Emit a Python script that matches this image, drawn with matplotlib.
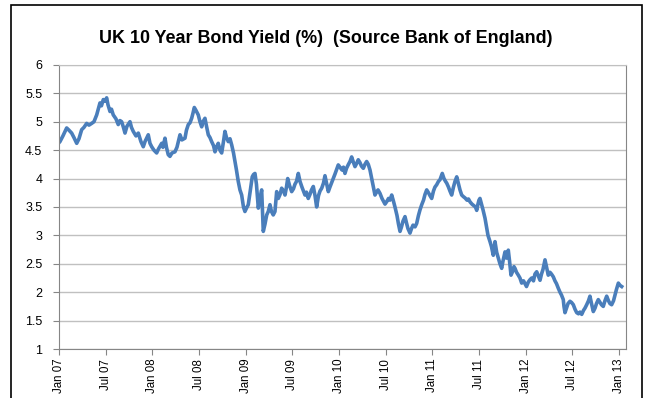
import matplotlib.pyplot as plt
from matplotlib.patches import Rectangle

# months since Jan 2007 and the 10 year gilt yield (%)
months = [
    0, 0.13, 0.51, 0.99, 1.29, 1.63, 1.93, 2.28, 2.57, 2.92, 3.21, 3.56, 3.86, 4.20,
    4.50, 4.85, 5.01, 5.27, 5.46, 5.70, 5.91, 6.13, 6.30, 6.56, 6.75, 6.98, 7.33, 7.62,
    7.84, 8.06, 8.29, 8.49, 8.74, 9.13, 9.32, 9.55, 9.90, 10.20, 10.54, 10.84, 11.06,
    11.48, 11.70, 11.92, 12.21, 12.56, 12.79, 13.21, 13.37, 13.63, 13.82, 14.05, 14.27,
    14.53, 14.91, 15.17, 15.56, 15.81, 16.20, 16.39, 16.63, 16.84, 17.06, 17.23, 17.40,
    17.61, 17.91, 18.13, 18.35, 18.52, 18.77, 18.97, 19.20, 19.42, 19.63, 19.87, 20.06,
    20.25, 20.48, 20.70, 20.92, 21.15, 21.34, 21.54, 21.77, 21.99, 22.21, 22.44, 22.63,
    22.82, 23.05, 23.27, 23.49, 23.72, 23.91, 24.11, 24.34, 24.56, 24.85, 25.01, 25.20,
    25.39, 25.63, 25.84, 26.06, 26.17, 26.27, 26.49, 26.71, 26.91, 27.13, 27.32, 27.55,
    27.77, 27.99, 28.20, 28.42, 28.63, 28.87, 29.06, 29.25, 29.41, 29.64, 29.92, 30.15,
    30.34, 30.54, 30.77, 30.99, 31.24, 31.44, 31.63, 31.82, 32.05, 32.27, 32.47, 32.70,
    32.92, 33.13, 33.37, 33.56, 33.78, 34.01, 34.20, 34.40, 34.63, 34.84, 35.04, 35.27,
    35.49, 35.68, 35.91, 36.13, 36.39, 36.58, 36.77, 36.97, 37.22, 37.42, 37.63, 37.87,
    38.06, 38.25, 38.48, 38.70, 38.89, 39.13, 39.34, 39.56, 39.77, 39.99, 40.21, 40.44,
    40.63, 40.82, 41.02, 41.27, 41.53, 41.72, 41.92, 42.17, 42.37, 42.56, 42.78, 43.01,
    43.20, 43.46, 43.65, 43.85, 44.04, 44.23, 44.49, 44.68, 44.87, 45.13, 45.33, 45.52,
    45.78, 45.99, 46.22, 46.42, 46.64, 46.87, 47.06, 47.28, 47.51, 47.70, 47.92, 48.15,
    48.34, 48.56, 48.79, 48.99, 49.28, 49.50, 49.70, 49.85, 50.08, 50.27, 50.49, 50.72,
    50.92, 51.14, 51.37, 51.56, 51.78, 52.01, 52.20, 52.46, 52.65, 52.85, 53.10, 53.36,
    53.55, 53.71, 53.87, 54.00, 54.13, 54.33, 54.52, 54.78, 54.97, 55.16, 55.42, 55.61,
    55.84, 56.06, 56.28, 56.49, 56.70, 56.92, 57.09, 57.35, 57.54, 57.77, 57.93, 58.12,
    58.31, 58.50, 58.63, 58.83, 59.06, 59.27, 59.49, 59.73, 59.92, 60.11, 60.35, 60.56,
    60.78, 61.01, 61.20, 61.42, 61.65, 61.85, 62.04, 62.23, 62.49, 62.68, 62.91, 63.13,
    63.32, 63.56, 63.77, 63.97, 64.20, 64.42, 64.61, 64.84, 64.93, 65.06, 65.25, 65.45,
    65.70, 65.90, 66.13, 66.35, 66.57, 66.80, 66.99, 67.21, 67.44, 67.63, 67.85, 68.08,
    68.27, 68.47, 68.70, 68.92, 69.11, 69.34, 69.56, 69.75, 69.98, 70.20, 70.42, 70.65,
    70.84, 71.06, 71.30, 71.49, 71.68, 71.92, 72.14, 72.35,
]
yields = [
    4.63, 4.65, 4.75, 4.89, 4.85, 4.80, 4.72, 4.62, 4.70, 4.86, 4.90, 4.97, 4.94, 4.97,
    5.00, 5.12, 5.20, 5.33, 5.28, 5.39, 5.36, 5.42, 5.30, 5.18, 5.22, 5.12, 5.05, 4.95,
    5.02, 5.00, 4.90, 4.80, 4.92, 5.00, 4.90, 4.83, 4.75, 4.80, 4.65, 4.56, 4.65,
    4.77, 4.62, 4.56, 4.50, 4.45, 4.52, 4.62, 4.55, 4.71, 4.55, 4.42, 4.39,
    4.45, 4.47, 4.55, 4.77, 4.68, 4.71, 4.85, 4.95, 4.98, 5.06, 5.15, 5.25,
    5.20, 5.12, 5.00, 4.91, 5.00, 5.06, 4.92, 4.77, 4.72, 4.65, 4.58, 4.47,
    4.55, 4.62, 4.50, 4.45, 4.65, 4.83, 4.72, 4.65, 4.70, 4.59, 4.45, 4.30,
    4.15, 3.95, 3.80, 3.71, 3.50, 3.42, 3.48, 3.54, 3.75, 4.03, 4.07, 4.09,
    3.90, 3.48, 3.65, 3.80, 3.40, 3.07, 3.20, 3.36, 3.42, 3.54, 3.42, 3.36,
    3.42, 3.77, 3.65, 3.72, 3.83, 3.78, 3.71, 3.85, 4.00, 3.88, 3.77, 3.82,
    3.90, 3.95, 4.09, 3.95, 3.85, 3.78, 3.71, 3.76, 3.65, 3.72, 3.80, 3.86,
    3.70, 3.50, 3.70, 3.78, 3.83, 3.92, 4.05, 3.92, 3.77, 3.85, 3.92, 4.00,
    4.08, 4.15, 4.24, 4.20, 4.15, 4.20, 4.09, 4.18, 4.25, 4.30, 4.38, 4.28,
    4.21, 4.26, 4.33, 4.28, 4.22, 4.18, 4.25, 4.30, 4.25, 4.15, 4.00, 3.85,
    3.71, 3.76, 3.80, 3.74, 3.65, 3.60, 3.55, 3.60, 3.65, 3.62, 3.71, 3.60,
    3.50, 3.35, 3.20, 3.07, 3.15, 3.25, 3.33, 3.22, 3.12, 3.04, 3.12, 3.18,
    3.15, 3.21, 3.35, 3.45, 3.54, 3.62, 3.72, 3.80, 3.75, 3.70, 3.65, 3.78,
    3.85, 3.89, 3.95, 3.98, 4.09, 4.00, 3.95, 3.92, 3.85, 3.78, 3.71, 3.85,
    3.95, 4.03, 3.90, 3.80, 3.71, 3.68, 3.66, 3.62, 3.64, 3.59, 3.55, 3.52,
    3.50, 3.44, 3.55, 3.62, 3.65, 3.55, 3.45, 3.30, 3.15, 3.00, 2.89, 2.80,
    2.65, 2.89, 2.70, 2.60, 2.50, 2.42, 2.55, 2.71, 2.60, 2.74, 2.55, 2.30,
    2.36, 2.45, 2.42, 2.35, 2.30, 2.25, 2.16, 2.20, 2.15, 2.10, 2.18, 2.22,
    2.25, 2.20, 2.32, 2.36, 2.28, 2.21, 2.32, 2.40, 2.57, 2.45, 2.30, 2.35,
    2.32, 2.27, 2.20, 2.15, 2.07, 2.00, 1.95, 1.87, 1.75, 1.64, 1.72, 1.80,
    1.84, 1.82, 1.78, 1.70, 1.64, 1.62, 1.65, 1.61, 1.68, 1.72, 1.78, 1.85,
    1.93, 1.80, 1.66, 1.72, 1.80, 1.87, 1.82, 1.78, 1.75, 1.85, 1.93, 1.85,
    1.80, 1.78, 1.85, 1.95, 2.05, 2.16, 2.12, 2.10,
]

tick_months = list(range(0, 73, 6))
tick_labels = ["Jan 07", "Jul 07", "Jan 08", "Jul 08", "Jan 09", "Jul 09", "Jan 10",
               "Jul 10", "Jan 11", "Jul 11", "Jan 12", "Jul 12", "Jan 13"]
y_ticks = [1, 1.5, 2, 2.5, 3, 3.5, 4, 4.5, 5, 5.5, 6]

plt.rcParams['font.family'] = ['Liberation Sans', 'DejaVu Sans']

fig = plt.figure(figsize=(6.48, 3.98), dpi=100)
ax = fig.add_axes([0.091, 0.123, 0.875, 0.714])

ax.plot(months, yields, color='#4a7ebb', lw=2.6, solid_joinstyle='round')

ax.set_xlim(0, 72.9)
ax.set_ylim(1, 6)
ax.set_yticks(y_ticks)
ax.set_yticklabels([f"{v:g}" for v in y_ticks])
ax.set_xticks(tick_months)
ax.set_xticklabels(tick_labels, rotation=90)
ax.tick_params(axis='both', color='#868686', length=4, width=0.8)
ax.tick_params(axis='x', labelsize=8.3, pad=3)
ax.tick_params(axis='y', labelsize=9, pad=8)

ax.grid(axis='y', color='#c0c0c0', lw=1)
ax.set_axisbelow(True)
for side, sp in ax.spines.items():
    sp.set_color('#868686')
    sp.set_linewidth(0.8)
ax.spines['top'].set_color('#c0c0c0')

fig.text(0.502, 0.903, "UK 10 Year Bond Yield (%)  (Source Bank of England)",
         ha='center', va='center', fontsize=12.9, fontweight='bold')

# outer chart border
fig.patches.append(Rectangle((11 / 648, -0.05), 631 / 648, 0.05 + 393 / 398,
                             transform=fig.transFigure, fill=False,
                             edgecolor='black', lw=1.2))

fig.savefig('out.png', dpi=100)
